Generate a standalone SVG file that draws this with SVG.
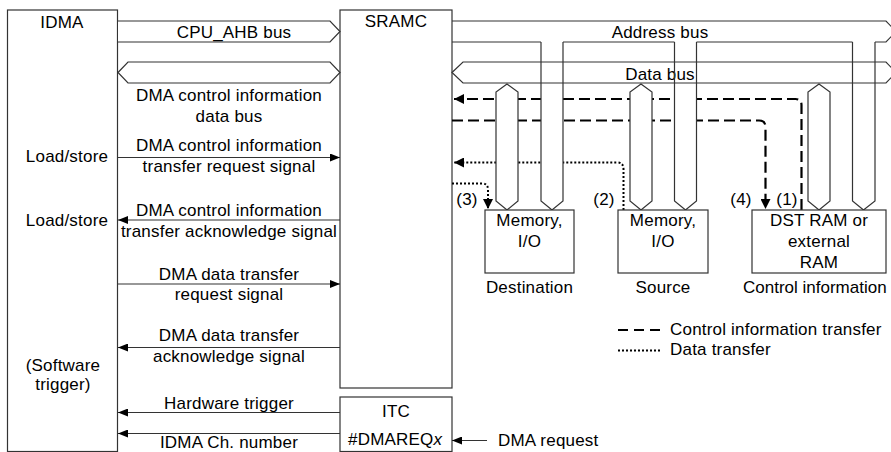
<svg xmlns="http://www.w3.org/2000/svg" width="891" height="452" viewBox="0 0 891 452">
<style>
text{font-family:"Liberation Sans",Arial,sans-serif;font-size:17px;letter-spacing:0.2px;fill:#000}
.c{text-anchor:middle}
.box{fill:#fff;stroke:#333;stroke-width:1.2}
.ln{fill:none;stroke:#333;stroke-width:1.2}
.bus{fill:#fff;stroke:#333;stroke-width:1.2}
.wf{fill:#fff;stroke:none}
.dash{fill:none;stroke:#000;stroke-width:2.2;stroke-dasharray:11 5}
.dot{fill:none;stroke:#000;stroke-width:2;stroke-dasharray:2 2}
.sig{fill:none;stroke:#333;stroke-width:1.2}
</style>
<defs>
<marker id="ah" viewBox="0 0 10 8" refX="10" refY="4" markerWidth="10" markerHeight="8" markerUnits="userSpaceOnUse" orient="auto">
<path d="M0,0 L10,4 L0,8 Z" fill="#000"/>
</marker>
<marker id="ahb" viewBox="0 0 10 10" refX="10" refY="5" markerWidth="10" markerHeight="10" markerUnits="userSpaceOnUse" orient="auto">
<path d="M0,0 L10,5 L0,10 Z" fill="#000"/>
</marker>
</defs>

<g id="idma">
<rect class="box" x="7.5" y="10" width="110" height="441.5"/>
<text class="c" x="62" y="28">IDMA</text>
<text class="c" x="67" y="162">Load/store</text>
<text class="c" x="67" y="226">Load/store</text>
<text class="c" x="63" y="371">(Software</text>
<text class="c" x="63" y="390">trigger)</text>
</g>

<g id="sramc">
<rect class="box" x="340" y="10" width="112" height="378"/>
<text class="c" x="396" y="27">SRAMC</text>
</g>

<g id="itc">
<rect class="box" x="340" y="397" width="112" height="54.5"/>
<text class="c" x="396" y="417">ITC</text>
<text x="348" y="445">#DMAREQ<tspan font-style="italic">x</tspan></text>
</g>

<g id="buses">
<path class="bus" d="M118,21 H330 L340,31.5 L330,42 H118"/>
<text class="c" x="234" y="38">CPU_AHB bus</text>
<path class="bus" d="M118,72.5 L128,62 H330 L340,72.5 L330,83 H128 Z"/>
<path class="ln" d="M452,21 H886 L896,31.5 L886,42 H875 M852.5,42 H696.5 M674.5,42 H563 M541,42 H452"/>
<text class="c" x="660" y="38">Address bus</text>
<path class="bus" d="M452,72.5 L463,62 H886 L896,72.5 L886,83 H463 Z"/>
<text class="c" x="660" y="80">Data bus</text>
</g>

<g id="connectors">
<path class="dash" d="M801.5,210 V105 Q801.5,99 795.5,99 H454" marker-end="url(#ahb)"/>
<path class="dash" d="M452,120.5 H759 Q765.5,120.5 765.5,127 V209" marker-end="url(#ahb)"/>
<path class="dot" d="M623.5,210 V169 Q623.5,162.5 617,162.5 H454" marker-end="url(#ahb)"/>
<path class="dot" d="M452,183.5 H482 Q488,183.5 488,189.5 V209" marker-end="url(#ahb)"/>
<path class="sig" d="M118,157.5 H340" marker-end="url(#ah)"/>
<path class="sig" d="M340,220 H118" marker-end="url(#ah)"/>
<path class="sig" d="M118,284 H340" marker-end="url(#ah)"/>
<path class="sig" d="M340,347.5 H118" marker-end="url(#ah)"/>
<path class="sig" d="M340,412.5 H118" marker-end="url(#ah)"/>
<path class="sig" d="M340,433.5 H118" marker-end="url(#ah)"/>
<path class="sig" d="M487,440.5 H452" marker-end="url(#ah)"/>
</g>

<g id="vbuses">
<polygon class="wf" points="541,84 541,201 552,210 563,201 563,84"/>
<path class="ln" d="M541,42 V201 L552,210 L563,201 V42"/>
<polygon class="wf" points="674.5,84 674.5,201 685.5,210 696.5,201 696.5,84"/>
<path class="ln" d="M674.5,42 V201 L685.5,210 L696.5,201 V42"/>
<polygon class="wf" points="852.5,84 852.5,201 863.5,210 875,201 875,84"/>
<path class="ln" d="M852.5,42 V201 L863.5,210 L875,201 V42"/>
<polygon class="bus" points="507,84 496,92 496,201 507,210 518,201 518,92"/>
<polygon class="bus" points="641,84 630,92 630,201 641,210 652,201 652,92"/>
<polygon class="bus" points="819,84 808,92 808,201 819,210 830,201 830,92"/>
</g>

<g id="text-labels">
<text class="c" x="229" y="101">DMA control information</text>
<text class="c" x="229" y="122">data bus</text>
<text class="c" x="229" y="151">DMA control information</text>
<text class="c" x="229" y="172">transfer request signal</text>
<text class="c" x="229" y="216">DMA control information</text>
<text class="c" x="229" y="237">transfer acknowledge signal</text>
<text class="c" x="229" y="280">DMA data transfer</text>
<text class="c" x="229" y="300">request signal</text>
<text class="c" x="229" y="341">DMA data transfer</text>
<text class="c" x="229" y="362">acknowledge signal</text>
<text class="c" x="229" y="409">Hardware trigger</text>
<text class="c" x="229" y="448">IDMA Ch. number</text>
<text x="498" y="446">DMA request</text>
<text class="c" x="467" y="205">(3)</text>
<text class="c" x="604" y="205">(2)</text>
<text class="c" x="741" y="205">(4)</text>
<text class="c" x="787" y="205">(1)</text>
</g>

<g id="dest">
<rect class="box" x="485" y="210" width="89" height="63"/>
<text class="c" x="529.5" y="226">Memory,</text>
<text class="c" x="529.5" y="247">I/O</text>
<text class="c" x="529.5" y="293">Destination</text>
</g>

<g id="source">
<rect class="box" x="618" y="210" width="90" height="63"/>
<text class="c" x="663" y="226">Memory,</text>
<text class="c" x="663" y="247">I/O</text>
<text class="c" x="663" y="293">Source</text>
</g>

<g id="ctrl">
<rect class="box" x="752" y="210" width="134" height="63"/>
<text class="c" x="819" y="226">DST RAM or</text>
<text class="c" x="819" y="247">external</text>
<text class="c" x="819" y="268">RAM</text>
<text x="743" y="293" style="letter-spacing:0">Control information</text>
</g>

<g id="legend">
<path class="dash" d="M618,330 H660" style="stroke-dasharray:10 6"/>
<text x="670" y="335">Control information transfer</text>
<path class="dot" d="M618,350.5 H660" style="stroke-width:1.8"/>
<text x="670" y="355">Data transfer</text>
</g>
</svg>
